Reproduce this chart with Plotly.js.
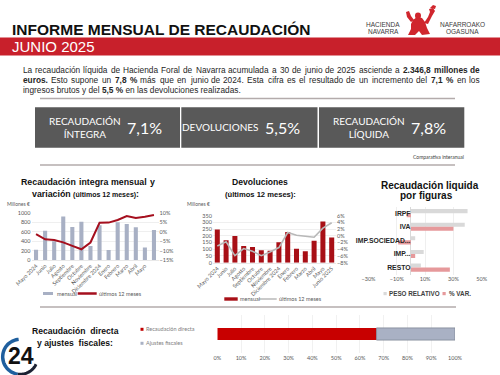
<!DOCTYPE html>
<html><head><meta charset="utf-8">
<script src="https://cdn.plot.ly/plotly-3.0.1.min.js"></script>
<style>html,body{margin:0;padding:0;background:#fff}#chart{width:500px;height:375px}</style>
</head><body><div id="chart"></div>
<script>
// ---------- DATA ----------
const months = ['Mayo 2024','Junio','Julio','Agosto','Septiembre','Octubre','Noviembre','Diciembre 2024','Enero','Febrero','Marzo','Abril','Mayo','Junio 2025'];
const integraTicks = ['Mayo 2024','Junio','Julio','Agosto','Septiembre','Octubre','Noviembre','Diciembre 2024','Enero','Febrero','Marzo','Abril','Mayo',''];
const integraMensual = [220,625,400,925,700,815,300,740,215,805,765,695,265,640];
const integraVar12 = [-1.2,-4.0,-4.4,-5.6,-7.5,-9.3,-5.7,4.8,4.9,6.3,8.4,7.3,8.0,8.9];
const devolMensual = [248,167,198,125,116,92,89,152,229,104,85,164,307,188];
const devolVar12 = [-3.0,-1.8,-5.9,-3.8,-4.6,-5.9,-4.8,-3.5,1.0,0.2,-0.1,-0.4,2.3,3.9];
const figuras = ['IRPF','IVA','IMP.SOCIEDAD...','IMP...','RESTO'];
const pesoRelativo = [40,38,3,9,7];
const varFiguras = [-3,30,-9,3,27.5];
const kpiLabels = ['RECAUDACIÓN<br>ÍNTEGRA','DEVOLUCIONES','RECAUDACIÓN<br>LÍQUIDA'];
const kpiValues = ['7,1%','5,5%','7,8%'];
const directaLabel = ['Recaudación directa'];
const recDirecta = [67];
const ajustesFiscales = [33];

// ---------- HELPERS ----------
const W=500,H=375;
const px=x=>x/W, py=y=>1-y/H;
const ARIAL='Liberation Sans, Arial, sans-serif';
const CANVAS_ARIAL='"Liberation Sans", Arial, sans-serif';
const LATO='Lato, Noto Sans, sans-serif';
const ann=[], shapes=[];
function A(x,y,text,o={}){
  ann.push({x:px(x),y:py(y),xref:'paper',yref:'paper',text,showarrow:false,
    xanchor:o.xa||'center',yanchor:o.ya||'middle',align:o.align||'center',borderpad:0,
    font:{size:o.s||8,family:o.f||ARIAL,color:o.c||'#222'}});
}
const cv=document.createElement('canvas').getContext('2d');
function meas(t,s,b){cv.font=(b?'bold ':'')+s+'px '+CANVAS_ARIAL;return cv.measureText(t).width;}
function justify(segs,y,x0,x1,s,c){
  const words=[];segs.forEach(([t,b])=>t.split(' ').filter(Boolean).forEach(w=>words.push([w,b])));
  const ws=words.map(([w,b])=>meas(w,s,b));
  const tot=ws.reduce((a,b)=>a+b,0);
  const gap=(x1-x0-tot)/(words.length-1);
  let x=x0;
  words.forEach(([w,b],i)=>{A(x,y,b?'<b>'+w+'</b>':w,{xa:'left',s,c});x+=ws[i]+gap;});
}
function rect(x0,y0,x1,y1,fill){shapes.push({type:'rect',xref:'paper',yref:'paper',x0:px(x0),x1:px(x1),y0:py(y0),y1:py(y1),fillcolor:fill,line:{width:0},layer:'below'});}
function line(x0,y0,x1,y1,color,w){shapes.push({type:'line',xref:'paper',yref:'paper',x0:px(x0),x1:px(x1),y0:py(y0),y1:py(y1),line:{color,width:w}});}
function arc(cx,cy,r,a0,a1,n=40){let s='';for(let i=0;i<=n;i++){const a=(a0+(a1-a0)*i/n)*Math.PI/180;s+=(i?'L':'M')+px(cx+r*Math.cos(a)).toFixed(4)+','+py(cy-r*Math.sin(a)).toFixed(4);}return s;}
function poly(pts){return pts.map((p,i)=>(i?'L':'M')+px(p[0]).toFixed(4)+','+py(p[1]).toFixed(4)).join('')+'Z';}
function blob(pts){shapes.push({type:'path',xref:'paper',yref:'paper',fillcolor:'#d0262d',line:{width:0},path:poly(pts)});}

// ---------- HEADER ----------
A(11,29.5,'<b>INFORME MENSUAL DE RECAUDACIÓN</b>',{xa:'left',s:15.5,c:'#111'});
rect(0,37.5,500,55.5,'#c8202b');
A(11,47,'JUNIO 2025',{xa:'left',s:15,c:'#fff'});
A(383,24.3,'HACIENDA',{s:6.5,c:'#3c3c3c'});
A(383,31.5,'NAVARRA',{s:6.5,c:'#3c3c3c'});
A(462.5,24.3,'NAFARROAKO',{s:6.5,c:'#3c3c3c'});
A(462.5,31.5,'OGASUNA',{s:6.5,c:'#3c3c3c'});
// logo figure (decorative)
blob([[413,20],[417,17],[422,18],[425,22],[427,28],[430,34],[422,35],[419,31],[415,35],[408,35],[411,29],[411,24]]); // torso
blob([[411,22],[407,17],[406,12],[409,11],[411,16],[414,20]]); // left arm
blob([[424,23],[428,17],[430,12],[429,9],[433,8],[435,11],[432,16],[428,24]]); // right arm
shapes.push({type:'circle',xref:'paper',yref:'paper',x0:px(415),x1:px(421),y0:py(19),y1:py(12.5),fillcolor:'#d0262d',line:{width:0}});
blob([[430,8],[433,5],[436,6],[435,9]]);

// ---------- PARAGRAPH ----------
const PS=8.3, PC='#262626';
justify([['La recaudación líquida de Hacienda Foral de Navarra acumulada a 30 de junio de 2025 asciende a',0],['2.346,8 millones de',1]],70,21.7,479,PS,PC);
justify([['euros.',1],['Esto supone un',0],['7,8 %',1],['más que en junio de 2024. Esta cifra es el resultado de un incremento del',0],['7,1 %',1],['en los',0]],80,21.7,479,PS,PC);
A(21.7,89.5,'ingresos brutos y del <b>5,5 %</b> en las devoluciones realizadas.',{xa:'left',s:PS,c:PC});
line(40,98.5,455,98.5,'#b3abab',1.5);

// ---------- KPI BOXES ----------
rect(35,107.3,180,147.7,'#595959');
rect(181.3,107.3,317.5,147.7,'#595959');
rect(319,107.3,464.3,147.7,'#595959');
const kpiLX=[85,220,369], kpiVX=[144,282,428];
kpiLabels.forEach((t,i)=>{A(kpiLX[i],127.3,t,{s:10,f:LATO,c:'#fff'});A(kpiVX[i],128,kpiValues[i],{s:16,f:LATO,c:'#fff'});});
A(465,157,'Comparativa interanual',{xa:'right',s:5,f:LATO,c:'#404040'});
line(40,165,455,165,'#b3abab',1.5);

// ---------- CHART TITLES ----------
justify([['Recaudación integra mensual y',1]],182.3,20,154,8.8,'#111');
A(85,194,'<b>variación <span style="font-size:7px">(últimos 12 meses)</span>:</b>',{s:8.8,c:'#111'});
A(6,204,'Millones €',{xa:'left',s:5,f:LATO,c:'#595959'});
A(260,181.7,'<b>Devoluciones</b>',{s:8.6,c:'#111'});
A(260,194,'<b>(últimos 12 meses):</b>',{s:7.6,c:'#111'});
A(185.7,204,'Millones €',{xa:'left',s:5,f:LATO,c:'#595959'});
A(430,185,'<b>Recaudación liquida</b>',{s:10,c:'#111'});
A(426,196,'<b>por figuras</b>',{s:10,c:'#111'});

// ---------- LEGENDS ----------
const LC='#595959';
rect(43,292,53,295,'#a8b0c4');
A(55.7,293.5,'mensual',{xa:'left',s:5.5,f:LATO,c:LC});
line(77.7,293.5,96.7,293.5,'#a50f1e',2.5);
A(97.5,293.5,'últimos 12 meses',{xa:'left',s:5.5,f:LATO,c:LC});
rect(224.3,297.3,237.7,300.7,'#a80f16');
A(238.5,299,'mensual',{xa:'left',s:5.5,f:LATO,c:LC});
line(259.3,299,276.7,299,'#b8b8b8',1.5);
A(277.5,299,'últimos 12 meses',{xa:'left',s:5.5,f:LATO,c:LC});
rect(383.5,292,386.7,295.2,'#d9d9d9');
A(388,293.5,'<b>PESO RELATIVO</b>',{xa:'left',s:6.3,c:'#404040'});
rect(442.5,292,445.7,295.2,'#e6999b');
A(447.5,293.5,'<b>% VAR.</b>',{xa:'left',s:6.3,c:'#404040'});

// ---------- BOTTOM ----------
line(40,307,456,307,'#b3abab',1.5);
A(75,330.7,'<b>Recaudación  directa</b>',{s:8.6,c:'#111'});
A(75,342.7,'<b>y ajustes  fiscales:</b>',{s:8.6,c:'#111'});
rect(140.5,327.8,143.5,330.8,'#c00000');
A(145.3,329.3,'Recaudación directa',{xa:'left',s:5.5,f:LATO,c:'#808080'});
rect(140.5,341.8,143.5,344.8,'#a9b1c4');
A(145.3,343.3,'Ajustes fiscales',{xa:'left',s:5.5,f:LATO,c:'#808080'});
// 24 logo
shapes.push({type:'path',xref:'paper',yref:'paper',path:arc(20.2,356.8,17.5,95,262),line:{color:'#1f5f9e',width:3.5}});
shapes.push({type:'path',xref:'paper',yref:'paper',path:arc(20.2,356.8,17.5,262,335),line:{color:'#1c2233',width:3}});
A(21,356,'<b>24</b>',{s:23,c:'#111'});

// ---------- TRACES ----------
const tickFont={size:5.5,family:LATO,color:'#595959'};
const data=[
  {type:'bar',x:months,y:integraMensual,xaxis:'x',yaxis:'y',marker:{color:'#a8b0c4'},width:0.45,name:'mensual'},
  {type:'scatter',mode:'lines',x:months,y:integraVar12,xaxis:'x',yaxis:'y2',line:{color:'#a50f1e',width:2},name:'últimos 12 meses'},
  {type:'bar',x:months,y:devolMensual,xaxis:'x2',yaxis:'y3',marker:{color:'#a80f16'},width:0.57,name:'mensual'},
  {type:'scatter',mode:'lines',x:months,y:devolVar12,xaxis:'x2',yaxis:'y4',line:{color:'#b8b8b8',width:1.6},name:'últimos 12 meses'},
  {type:'bar',orientation:'h',y:figuras,x:pesoRelativo,xaxis:'x3',yaxis:'y5',marker:{color:'#d9d9d9'},offset:-0.31,width:0.3,name:'PESO RELATIVO'},
  {type:'bar',orientation:'h',y:figuras,x:varFiguras,xaxis:'x3',yaxis:'y5',marker:{color:'#e6999b'},offset:-0.01,width:0.3,name:'% VAR.'},
  {type:'bar',orientation:'h',y:directaLabel,x:recDirecta,xaxis:'x4',yaxis:'y6',marker:{color:'#c80000',line:{width:0}},offset:-0.16,width:0.32,name:'Recaudación directa'},
  {type:'bar',orientation:'h',y:directaLabel,x:ajustesFiscales,base:recDirecta,xaxis:'x4',yaxis:'y6',marker:{color:'#a9b1c4',line:{color:'#7f8796',width:0.8}},offset:-0.16,width:0.32,name:'Ajustes fiscales'}
];
const grid='#e4e4e4';
const layout={
  width:W,height:H,margin:{l:0,r:0,t:0,b:0},paper_bgcolor:'#fff',plot_bgcolor:'rgba(0,0,0,0)',
  showlegend:false,barmode:'overlay',
  xaxis:{domain:[px(31.5),px(158.5)],anchor:'y',tickvals:months,ticktext:integraTicks,tickangle:-45,tickfont:tickFont,showgrid:false,showline:true,linecolor:'#d9d9d9',linewidth:0.6,ticks:'',fixedrange:true},
  yaxis:{domain:[py(260),py(213)],anchor:'x',range:[0,1000],dtick:200,tickfont:tickFont,gridcolor:grid,gridwidth:0.6,zeroline:false,ticks:'',fixedrange:true},
  yaxis2:{overlaying:'y',anchor:'x',side:'right',range:[-15,10],dtick:5,ticksuffix:'%',tickfont:tickFont,showgrid:false,zeroline:false,ticks:'',fixedrange:true},
  xaxis2:{domain:[px(212.9),px(336.1)],anchor:'y3',tickangle:-45,tickfont:tickFont,showgrid:false,showline:true,linecolor:'#d9d9d9',linewidth:0.6,ticks:'',fixedrange:true},
  yaxis3:{domain:[py(262.7),py(215.7)],anchor:'x2',range:[0,350],dtick:50,tickfont:tickFont,gridcolor:grid,gridwidth:0.6,zeroline:false,ticks:'',fixedrange:true},
  yaxis4:{overlaying:'y3',anchor:'x2',side:'right',range:[-8,6],dtick:2,ticksuffix:'%',tickfont:tickFont,showgrid:false,zeroline:false,ticks:'',fixedrange:true},
  xaxis3:{domain:[px(368.5),px(481.7)],anchor:'y5',range:[-30,50],tick0:-30,dtick:20,ticksuffix:'%',tickfont:tickFont,gridcolor:grid,gridwidth:0.6,zeroline:true,zerolinecolor:'#d0d0d0',zerolinewidth:0.8,ticks:'',fixedrange:true},
  yaxis5:{domain:[py(274.5),py(206.5)],anchor:'free',position:px(410.5),type:'category',autorange:'reversed',tickfont:{size:6.8,family:ARIAL,color:'#262626',weight:'bold'},showgrid:false,zeroline:false,showline:false,ticks:'',fixedrange:true},
  xaxis4:{domain:[px(217.3),px(455)],anchor:'y6',range:[0,100],dtick:10,ticksuffix:'%',tickfont:tickFont,gridcolor:'#e8e8e8',gridwidth:0.6,zeroline:false,ticks:'',fixedrange:true},
  yaxis6:{domain:[py(353),py(315)],anchor:'x4',type:'category',showticklabels:false,showgrid:false,zeroline:false,ticks:'',fixedrange:true},
  annotations:ann,shapes:shapes
};
Plotly.newPlot('chart',data,layout,{displayModeBar:false,staticPlot:true});
</script></body></html>
